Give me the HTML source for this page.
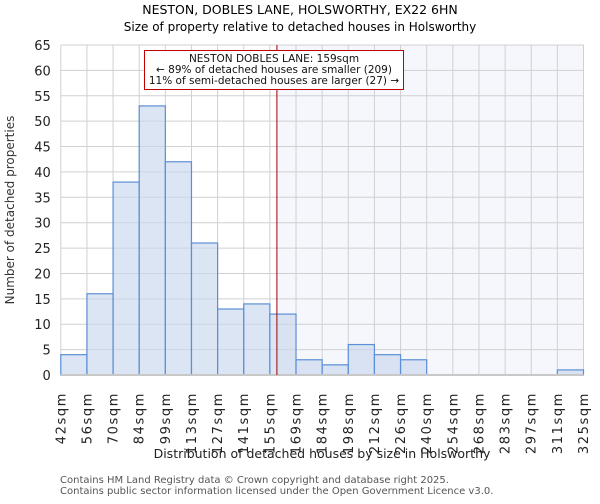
<!DOCTYPE html>
<html><head><meta charset="utf-8"><style>
body{margin:0;background:#fff;font-family:"DejaVu Sans","Liberation Sans",sans-serif}
</style></head><body>
<svg width="600" height="500" xmlns="http://www.w3.org/2000/svg" font-family="DejaVu Sans, Liberation Sans, sans-serif">
<text x="300" y="14" text-anchor="middle" font-size="12.5">NESTON, DOBLES LANE, HOLSWORTHY, EX22 6HN</text>
<text x="300" y="31" text-anchor="middle" font-size="12">Size of property relative to detached houses in Holsworthy</text>
<g id="plot"></g>
<text transform="translate(14,210) rotate(-90)" text-anchor="middle" font-size="12" fill="#333">Number of detached properties</text>
<text x="322" y="458" text-anchor="middle" font-size="12.5" fill="#222">Distribution of detached houses by size in Holsworthy</text>
<text x="60" y="483" font-size="10" fill="#555">Contains HM Land Registry data © Crown copyright and database right 2025.</text>
<text x="60" y="494" font-size="10" fill="#555">Contains public sector information licensed under the Open Government Licence v3.0.</text>
</svg>
<script>
const tickLabels=["42sqm","56sqm","70sqm","84sqm","99sqm","113sqm","127sqm","141sqm","155sqm","169sqm","184sqm","198sqm","212sqm","226sqm","240sqm","254sqm","268sqm","283sqm","297sqm","311sqm","325sqm"];
const counts=[4,16,38,53,42,26,13,14,12,3,2,6,4,3,0,0,0,0,0,1];
const yTicks=[0,5,10,15,20,25,30,35,40,45,50,55,60,65];
const minSqm=42, maxSqm=325, subjectSqm=159;
const X0=60.8,X1=583.5,Y0=375,Y1=45,yMax=65;
const NS="http://www.w3.org/2000/svg";
const g=document.getElementById('plot');
const n=counts.length, bw=(X1-X0)/n;
const xs=i=>X0+i*bw;
const xv=v=>X0+(v-minSqm)/(maxSqm-minSqm)*(X1-X0);
const ys=v=>Y0-(v/yMax)*(Y0-Y1);
function mk(t,a){const e=document.createElementNS(NS,t);for(const k in a)e.setAttribute(k,a[k]);g.appendChild(e);return e;}
const lx=xv(subjectSqm);
let e=mk('rect',{x:lx,y:Y1,width:X1-lx,height:Y0-Y1,fill:'#f5f7fd'});


yTicks.forEach(t=>{
 let l=mk('line',{x1:X0,x2:X1,y1:ys(t),y2:ys(t),stroke:'#d0d0d0'});
 
 
 let tx=mk('text',{x:X0-10,y:ys(t)+5,'text-anchor':'end','font-size':'13',fill:'#222'});tx.textContent=t;
 
 
});
tickLabels.forEach((lab,i)=>{
 let l=mk('line',{x1:xs(i),x2:xs(i),y1:Y1,y2:Y0,stroke:'#d0d0d0'});
 
 
 let tx=mk('text',{transform:`translate(${xs(i)+4.5},392) rotate(-90)`,'text-anchor':'end','font-size':'13',fill:'#222','letter-spacing':'1.6'});tx.textContent=lab;
 
 
});
counts.forEach((c,i)=>{
 if(c<=0)return;
 let r=mk('rect',{x:xs(i),y:ys(c),width:bw,height:Y0-ys(c),fill:'rgba(200,215,238,0.65)',stroke:'#5b8fd6','stroke-width':1.2});
 
 
});
e=mk('line',{x1:X0,x2:X1,y1:Y0,y2:Y0,stroke:'#c8c8c8','stroke-width':2});


e=mk('line',{x1:lx,x2:lx,y1:Y1,y2:Y0,stroke:'#a00000','stroke-width':1});


e=mk('rect',{x:144.5,y:50.5,width:259,height:39,fill:'#fff',stroke:'#c00000'});


["NESTON DOBLES LANE: 159sqm","← 89% of detached houses are smaller (209)","11% of semi-detached houses are larger (27) →"].forEach((s,i)=>{
 let tx=mk('text',{x:274,y:62+i*11,'text-anchor':'middle','font-size':'10.5',fill:'#111'});tx.textContent=s;
 
 
});
</script>
</body></html>
